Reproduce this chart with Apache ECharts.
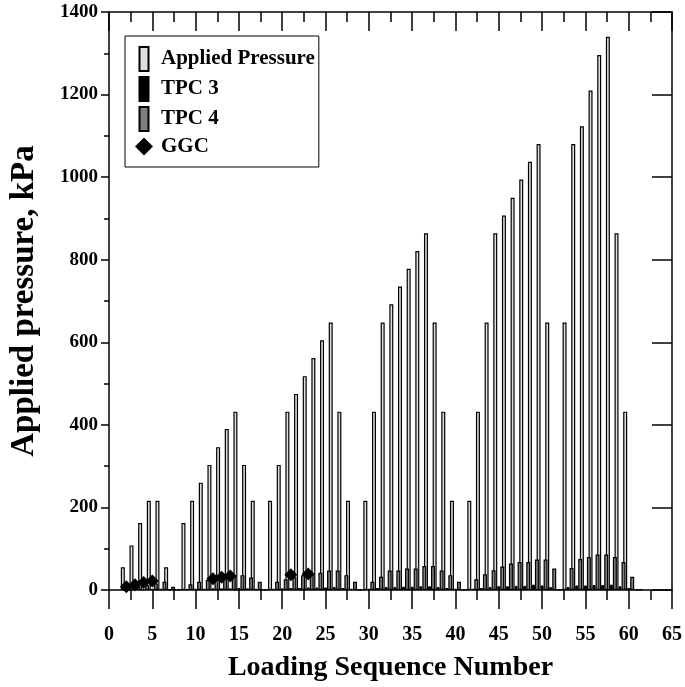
<!DOCTYPE html>
<html>
<head>
<meta charset="utf-8">
<script src="https://cdn.jsdelivr.net/npm/echarts@6/dist/echarts.min.js"></script>
<style>
html, body { margin: 0; padding: 0; background: #fff; }
#main { width: 685px; height: 687px; }
</style>
</head>
<body>
<div id="main"></div>
<script>
// loading sequence numbers
var seqNumbers = [2, 3, 4, 5, 6, 7, 8,
	9, 10, 11, 12, 13, 14, 15, 16, 17, 18,
	19, 20, 21, 22, 23, 24, 25, 26, 27, 28, 29,
	30, 31, 32, 33, 34, 35, 36, 37, 38, 39, 40, 41,
	42, 43, 44, 45, 46, 47, 48, 49, 50, 51, 52,
	53, 54, 55, 56, 57, 58, 59, 60, 61];
// applied pressure, kPa
var appliedPressure = [55, 108, 162, 216, 216, 55, 2,
	162, 216, 260, 303, 346, 390, 432, 303, 216, 2,
	216, 303, 432, 475, 518, 562, 605, 648, 432, 216, 2,
	216, 432, 648, 692, 735, 778, 821, 864, 648, 432, 216, 2,
	216, 432, 648, 864, 907, 950, 994, 1037, 1080, 648, 2,
	648, 1080, 1123, 1210, 1296, 1340, 864, 432, 2];
var tpc3 = [1, 2, 2, 3, 3, 1, 1,
	2, 3, 3, 4, 4, 4, 5, 4, 3, 1,
	3, 4, 5, 5, 6, 6, 6, 7, 5, 3, 1,
	3, 5, 7, 7, 8, 8, 9, 9, 7, 5, 3, 1,
	3, 5, 7, 9, 9, 10, 10, 13, 11, 7, 1,
	7, 11, 11, 12, 12, 13, 9, 5, 1];
var tpc4 = [4, 8, 12, 16, 20, 8, 2,
	14, 20, 24, 28, 31, 36, 36, 30, 20, 2,
	20, 26, 31, 36, 38, 42, 47, 47, 36, 20, 2,
	20, 32, 47, 47, 52, 52, 58, 58, 47, 36, 20, 2,
	26, 38, 48, 57, 64, 68, 68, 74, 74, 52, 2,
	53, 75, 80, 86, 86, 80, 68, 32, 2];
// GGC readings
var ggcSeq = [2, 3, 4, 5, 12, 13, 14, 21, 23];
var ggcValues = [8, 13, 18, 22, 27, 31, 34, 37, 39];

function pairs(xs, ys) {
	return xs.map(function(x, i) { return [x, ys[i]]; });
}

var serifFont = 'Liberation Serif';
var labelStyle = { fontFamily: serifFont, fontWeight: 'bold', fontSize: 19, color: '#000' };
var blackLine = { color: '#000', width: 1.5 };

var myChart = echarts.init(document.getElementById('main'));
var option = {
	animation: false,
	backgroundColor: '#fff',
	grid: { left: 107, right: 13, top: 12, bottom: 97 },
	legend: {
		orient: 'vertical',
		left: 125,
		top: 36,
		padding: [10, 4, 10, 10],
		itemGap: 4,
		itemWidth: 18,
		itemHeight: 24,
		borderColor: '#000',
		borderWidth: 1,
		textStyle: { fontFamily: serifFont, fontWeight: 'bold', fontSize: 21, color: '#000', padding: [0, 0, 0, 3] },
		data: [
			{ name: 'Applied Pressure', icon: 'path://M0,0 H9 V24 H0 Z' },
			{ name: 'TPC 3', icon: 'path://M0,0 H9 V24 H0 Z' },
			{ name: 'TPC 4', icon: 'path://M0,0 H9 V24 H0 Z' },
			{ name: 'GGC', icon: 'path://M9,0 L18,9 L9,18 L0,9 Z' }
		]
	},
	xAxis: [{
		type: 'value', position: 'bottom', min: 0, max: 65, interval: 5,
		axisLine: { show: true, onZero: false, lineStyle: blackLine },
		axisTick: { show: true, inside: false, length: 19, lineStyle: blackLine },
		minorTick: { show: true, splitNumber: 2, length: 10, lineStyle: blackLine },
		splitLine: { show: false },
		axisLabel: Object.assign({ margin: 35 }, labelStyle, { fontSize: 20 }),
		name: 'Loading Sequence Number', nameLocation: 'middle', nameGap: 64,
		nameTextStyle: { fontFamily: serifFont, fontWeight: 'bold', fontSize: 28, color: '#000' }
	}, {
		// top frame, ticks pointing in
		type: 'value', position: 'top', min: 0, max: 65, interval: 5,
		axisLine: { show: true, onZero: false, lineStyle: blackLine },
		axisTick: { show: true, inside: true, length: 19, lineStyle: blackLine },
		minorTick: { show: true, splitNumber: 2, length: 10, lineStyle: blackLine },
		splitLine: { show: false },
		axisLabel: { show: false }
	}],
	yAxis: [{
		type: 'value', position: 'left', min: 0, max: 1400, interval: 200,
		axisLine: { show: true, onZero: false, lineStyle: blackLine },
		axisTick: { show: true, inside: false, length: 8, lineStyle: blackLine },
		minorTick: { show: true, splitNumber: 2, length: 5, lineStyle: blackLine },
		splitLine: { show: false },
		axisLabel: Object.assign({ margin: 11, formatter: function(v) { return String(v); } }, labelStyle),
		name: 'Applied pressure, kPa', nameLocation: 'middle', nameGap: 68,
		nameTextStyle: { fontFamily: serifFont, fontWeight: 'bold', fontSize: 33, color: '#000' }
	}, {
		// right frame
		type: 'value', position: 'right', min: 0, max: 1400, interval: 200,
		axisLine: { show: true, onZero: false, lineStyle: blackLine },
		axisTick: { show: true, inside: true, length: 20, lineStyle: blackLine },
		splitLine: { show: false },
		axisLabel: { show: false }
	}],
	series: [{
		name: 'Applied Pressure', type: 'bar', barWidth: 4, barGap: '0%',
		itemStyle: { color: '#dedede', borderColor: '#000', borderWidth: 1.2 },
		data: pairs(seqNumbers, appliedPressure)
	}, {
		name: 'TPC 3', type: 'bar', barWidth: 3, barGap: '0%',
		itemStyle: { color: '#000', borderColor: '#000', borderWidth: 1 },
		data: pairs(seqNumbers, tpc3)
	}, {
		name: 'TPC 4', type: 'bar', barWidth: 4, barGap: '0%',
		itemStyle: { color: '#808080', borderColor: '#000', borderWidth: 1.2 },
		data: pairs(seqNumbers, tpc4)
	}, {
		name: 'GGC', type: 'scatter', symbol: 'diamond', symbolSize: 13, z: 5,
		itemStyle: { color: '#000', opacity: 1 },
		data: pairs(ggcSeq, ggcValues)
	}]
};
myChart.setOption(option);
</script>
</body>
</html>
